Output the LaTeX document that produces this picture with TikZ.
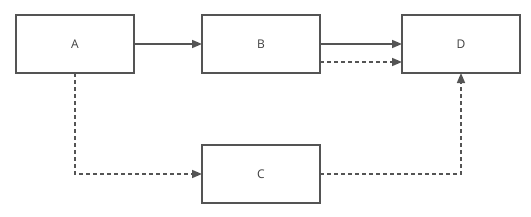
\documentclass[tikz,border=0pt]{standalone}
\usepackage{fontspec}
\setmainfont{Open Sans}
\usetikzlibrary{arrows.meta,positioning}
\definecolor{Edge}{HTML}{545454}

\begin{document}
\begin{tikzpicture}[x=1pt,y=1pt,>={Triangle[length=10pt,width=8pt]},box/.style={draw=Edge,line width=1.8pt,fill=white,outer sep=0pt,minimum width=118pt,minimum height=58pt,inner sep=0pt,text=black!75,font=\fontsize{12}{14}\selectfont},link/.style={draw=Edge,line width=1.5pt,->},dlink/.style={link,dash pattern=on 4pt off 3pt}]
\useasboundingbox (0,0) rectangle (531,-217);
\node[box](A) at (75,-44){A};
\node[box,right=68pt of A](B){B};
\node[box,right=82pt of B](D){D};
\node[box,below=72pt of B](C){C};
\foreach \p/\q in {A/B,B/D}{\draw[link](\p)--(\q);}
\draw[dlink]([yshift=-18pt]B.east)--([yshift=-18pt]D.west);
\draw[dlink](A)|-(C);
\draw[dlink](C)-|(D);
\end{tikzpicture}
\end{document}
